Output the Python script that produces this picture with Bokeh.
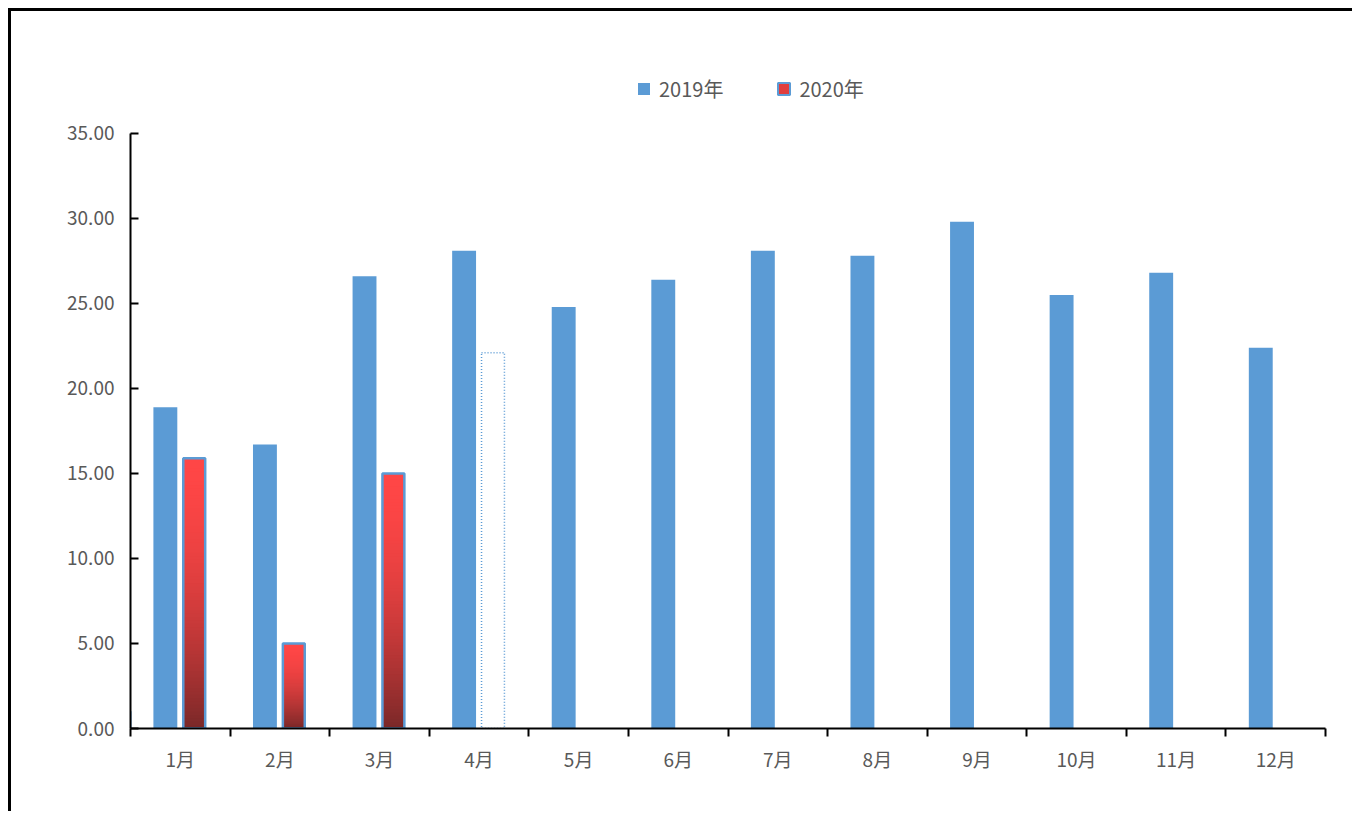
from bokeh.plotting import figure
from bokeh.models import (ColumnDataSource, FixedTicker, Legend, LegendItem,
                          CustomJSTickFormatter, Range1d)
from bokeh.embed import file_html
from bokeh.resources import INLINE

months = ["1月", "2月", "3月", "4月", "5月", "6月", "7月", "8月", "9月", "10月", "11月", "12月"]
v2019 = [18.9, 16.7, 26.6, 28.1, 24.8, 26.4, 28.1, 27.8, 29.8, 25.5, 26.8, 22.4]
v2020 = [15.9, 5.0, 15.0]
v2020_forecast_month = "4月"
v2020_forecast = 22.1
y_ticks = [0, 5, 10, 15, 20, 25, 30, 35]

BLUE = "#5B9BD5"
FONT = "Noto Sans CJK SC"
TXT = "#595959"

p = figure(width=1344, height=803, output_backend="svg", toolbar_location=None,
           x_range=Range1d(0, 12), y_range=Range1d(0, 39.88),
           min_border_left=119, min_border_right=30, min_border_top=39, min_border_bottom=86)
p.styles = {"margin-left": "8px", "margin-top": "8px",
            "border-left": "3px solid black", "border-top": "3px solid black"}
p.outline_line_color = None
p.xgrid.visible = False
p.ygrid.visible = False

n = len(months)
# 2019 bars
src19 = ColumnDataSource(dict(x=[i + 0.5 - 0.15 for i in range(n)], top=v2019))
r19 = p.vbar(x="x", top="top", width=0.24, source=src19, fill_color=BLUE, line_color=None)

# 2020 bars with vertical gradient (nested bars, tallest first)
N = 80
top_c = (0xFF, 0x46, 0x46)
bot_c = (0x7A, 0x28, 0x28)
gx, gt, gc = [], [], []
for i, v in enumerate(v2020):
    for k in range(N, 0, -1):
        t = v * k / N
        f = 1 - (k - 0.5) / N  # 0 top -> 1 bottom
        f = f ** 1.8
        c = tuple(int(round(top_c[j] + (bot_c[j] - top_c[j]) * f)) for j in range(3))
        gx.append(i + 0.5 + 0.14)
        gt.append(t)
        gc.append("#%02x%02x%02x" % c)
p.vbar(x="x", top="t", width=0.22, fill_color="c", line_color=None,
       source=ColumnDataSource(dict(x=gx, t=gt, c=gc)))
src20 = ColumnDataSource(dict(x=[i + 0.5 + 0.14 for i in range(len(v2020))], top=v2020))
p.vbar(x="x", top="top", width=0.22, source=src20, fill_color=None,
       line_color=BLUE, line_width=2.5)

# forecast (dotted outline)
fi = months.index(v2020_forecast_month)
p.vbar(x=[fi + 0.5 + 0.14], top=[v2020_forecast], width=0.23, fill_color=None,
       line_color=BLUE, line_width=1.5, line_dash="1 2")

# legend proxy for 2020 (placed outside the visible range)
r20 = p.vbar(x=[-5], top=[1], width=0.2, fill_color="#E03E3E", line_color=BLUE, line_width=2)

legend = Legend(items=[LegendItem(label="2019年", renderers=[r19]),
                       LegendItem(label="2020年", renderers=[r20])],
                orientation="horizontal", location=(506, 625),
                border_line_color=None, background_fill_alpha=0,
                glyph_width=15, glyph_height=15, label_standoff=8, spacing=53,
                label_text_font=FONT, label_text_font_size="20px", label_text_color=TXT,
                padding=0, margin=0)
p.add_layout(legend, "center")

# axes
xa = p.xaxis[0]
xa.ticker = FixedTicker(ticks=[i + 0.5 for i in range(n)], minor_ticks=list(range(n + 1)))
xa.major_label_overrides = {i + 0.5: m for i, m in enumerate(months)}
xa.major_tick_line_color = None
xa.minor_tick_line_color = "black"
xa.minor_tick_line_width = 2
xa.minor_tick_out = 8
xa.minor_tick_in = 0
xa.axis_line_color = "black"
xa.axis_line_width = 2
xa.major_label_text_font = FONT
xa.major_label_text_font_size = "19px"
xa.major_label_text_color = TXT
xa.major_label_standoff = 8

ya = p.yaxis[0]
ya.ticker = FixedTicker(ticks=y_ticks)
ya.bounds = (0, 35)
ya.formatter = CustomJSTickFormatter(code="return tick.toFixed(2);")
ya.minor_tick_line_color = None
ya.major_tick_in = 8
ya.major_tick_out = 0
ya.major_tick_line_width = 2
ya.axis_line_color = "black"
ya.axis_line_width = 2
ya.major_label_text_font = FONT
ya.major_label_text_font_size = "19px"
ya.major_label_text_color = TXT
ya.major_label_standoff = 16

open("out.html", "w").write(file_html(p, INLINE))
